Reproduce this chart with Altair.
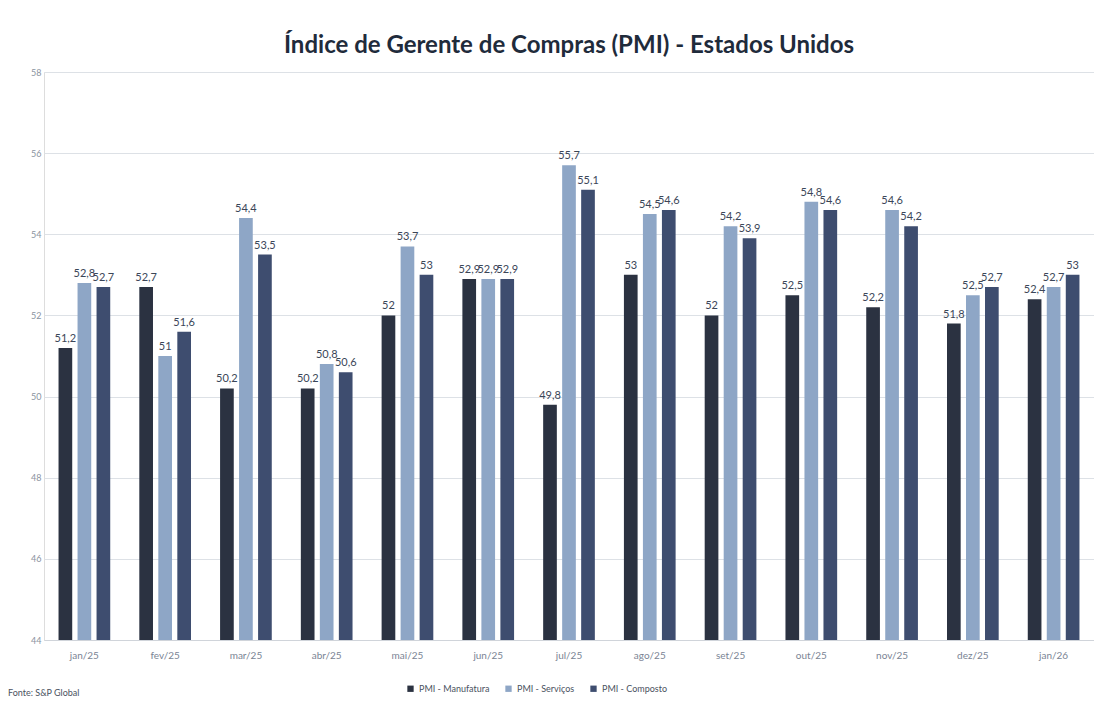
import altair as alt
import pandas as pd

meses = ["jan/25", "fev/25", "mar/25", "abr/25", "mai/25", "jun/25", "jul/25",
         "ago/25", "set/25", "out/25", "nov/25", "dez/25", "jan/26"]
series = ["PMI - Manufatura", "PMI - Serviços", "PMI - Composto"]
manufatura = [51.2, 52.7, 50.2, 50.2, 52.0, 52.9, 49.8, 53.0, 52.0, 52.5, 52.2, 51.8, 52.4]
servicos = [52.8, 51.0, 54.4, 50.8, 53.7, 52.9, 55.7, 54.5, 54.2, 54.8, 54.6, 52.5, 52.7]
composto = [52.7, 51.6, 53.5, 50.6, 53.0, 52.9, 55.1, 54.6, 53.9, 54.6, 54.2, 52.7, 53.0]
cores = ["#2b3241", "#8ea6c6", "#3e4d6f"]

rows = []
for s, vals in zip(series, [manufatura, servicos, composto]):
    for m, v in zip(meses, vals):
        lab = (f"{v:.1f}".rstrip("0").rstrip(".")).replace(".", ",")
        rows.append({"mes": m, "serie": s, "valor": v, "rotulo": lab})
df = pd.DataFrame(rows)

FONT = "Lato"

x = alt.X("mes:N", sort=meses, title=None,
          scale=alt.Scale(paddingInner=0.36, paddingOuter=0.18),
          axis=alt.Axis(labelAngle=0, labelFontSize=10, labelColor="#7a8494",
                        labelPadding=10, ticks=False, domain=True,
                        domainColor="#d0d4da", labelFont=FONT))
xo = alt.XOffset("serie:N", sort=series, scale=alt.Scale(paddingInner=0.28))
y = alt.Y("valor:Q", title=None,
          scale=alt.Scale(domain=[44, 58], zero=False, nice=False),
          axis=alt.Axis(values=[44, 46, 48, 50, 52, 54, 56, 58], labelFontSize=9,
                        labelColor="#8a93a0", ticks=False, domain=False,
                        gridColor="#dde1e6", gridWidth=1, labelPadding=3,
                        labelFont=FONT))
color = alt.Color("serie:N", sort=series,
                  scale=alt.Scale(domain=series, range=cores),
                  legend=alt.Legend(title=None, orient="none", direction="horizontal",
                                    legendX=362, legendY=612, symbolType="square",
                                    symbolSize=40, labelFontSize=9,
                                    labelColor="#4a5260", columnPadding=14,
                                    labelFont=FONT, symbolStrokeWidth=0))

base = alt.Chart(df)
bars = base.mark_bar().encode(x=x, xOffset=xo, y=y, y2=alt.datum(44), color=color)
labels = base.mark_text(dy=-9, fontSize=11, color="#3b4658", font=FONT).encode(
    x=x, xOffset=xo, y=y, text="rotulo:N")

fonte = alt.Chart(pd.DataFrame({"t": ["Fonte: S&P Global"]})).mark_text(
    align="left", baseline="middle", fontSize=9, color="#4a5260", font=FONT
).encode(x=alt.value(-36), y=alt.value(621), text="t:N")

chart = alt.layer(bars, labels, fonte).properties(
    width=1050, height=568,
    title=alt.TitleParams("Índice de Gerente de Compras (PMI) - Estados Unidos",
                          fontSize=24, font=FONT, fontWeight="bold",
                          color="#1f2b3b", anchor="middle", offset=10),
    padding={"left": 36, "top": 64, "right": 0, "bottom": 59},
    autosize=alt.AutoSizeParams(type="none"),
).configure_view(stroke=None).configure(background="white")

chart.save("out.html", embed_options={"renderer": "svg", "actions": False})
